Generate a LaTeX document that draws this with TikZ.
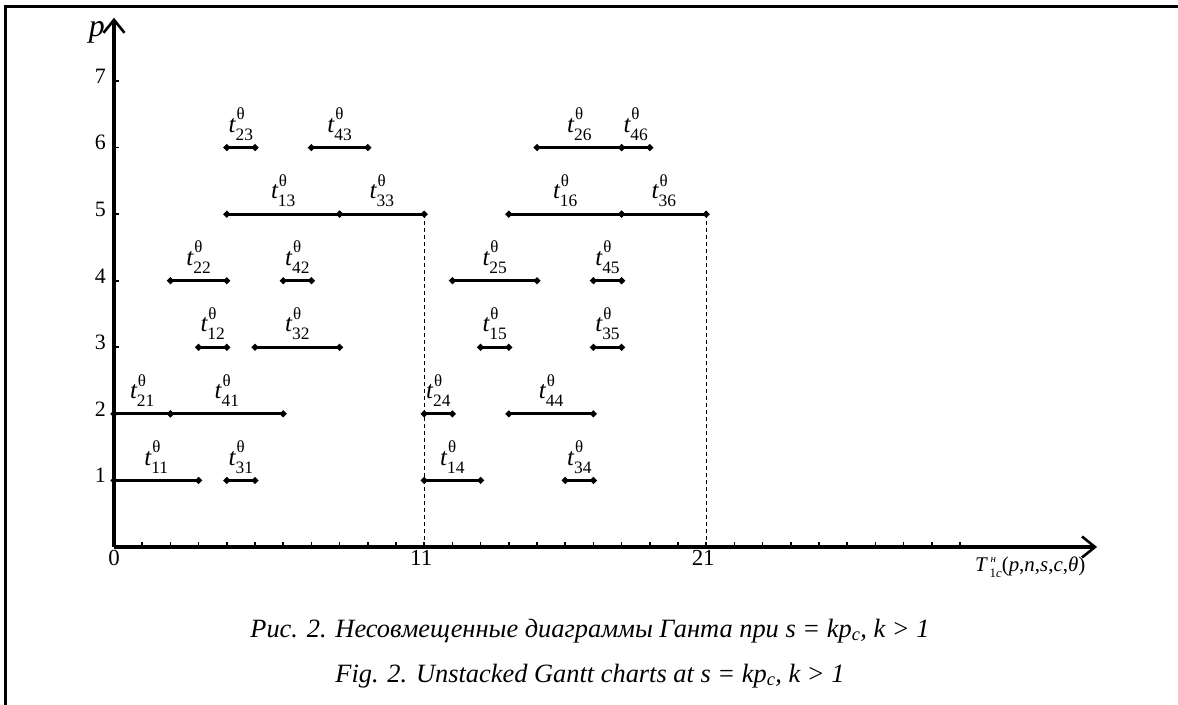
\documentclass[tikz,border=0pt]{standalone}
\usepackage{fontspec}
\setmainfont{Liberation Serif}
\usetikzlibrary{arrows.meta,shapes.geometric}
\newcommand\tlab[1]{\fontsize{25}{25}\selectfont\textit{t}\kern-0.5bp\makebox[0pt][l]{\kern1bp\raisebox{12.5bp}{\fontsize{17}{17}\selectfont θ}}\raisebox{-8bp}{\fontsize{17.5}{17.5}\selectfont #1}}
\begin{document}
\begin{tikzpicture}[x=1bp,y=-1bp,
  dot/.style={diamond,fill=black,inner sep=0pt,minimum size=7.5bp},
  seg/.style={line width=3bp},
  axis/.style={line width=3.2bp,-{Straight Barb[length=13bp,width=21bp,line width=2.6bp]}},
  tickmark/.style={line width=1.6bp},
  lbl/.style={anchor=base,inner sep=0pt},
  num/.style={font=\fontsize{22}{22}\selectfont,inner sep=0pt},
  xnum/.style={font=\fontsize{23}{23}\selectfont,inner sep=0pt,anchor=base},
  caption/.style={font=\fontsize{26.5}{26.5}\selectfont\itshape,anchor=base,inner sep=0pt}]
\useasboundingbox (0,0) rectangle (1178,705);
\draw[line width=3bp] (5,705) -- (5,7) -- (1178,7);
\begin{scope}[xshift=114bp,yshift=-547bp,x=28.2bp,y=66.57bp]
  \coordinate (O) at (0,0);
  \coordinate (xend) at (34.86,0);
  \coordinate (yend) at (0,7.95);
  \coordinate (x11) at (11,0);
  \coordinate (x21) at (21,0);
  \foreach \i in {1,...,30} \draw[tickmark] (\i,0) -- ++(0,5bp);
  \foreach \j in {1,...,7} {
    \draw[tickmark] (0,\j) -- ++(5bp,0);
    \node[num,anchor=mid east] (ty\j) at ([xshift=-8bp]0,\j) {\j};
  }
  \draw[axis] (O) -- (xend);
  \draw[axis] (O) -- (yend);
  \node[xnum] (tx0) at ([yshift=-18bp]0,0) {0};
  \node[xnum] (tx11) at ([xshift=-3bp,yshift=-18bp]11,0) {11};
  \node[xnum] (tx21) at ([xshift=-3bp,yshift=-18bp]21,0) {21};
  \foreach \r/\a/\b/\l in {1/0/3/11, 1/4/5/31, 1/11/13/14, 1/16/17/34,
                            2/0/2/21, 2/2/6/41, 2/11/12/24, 2/14/17/44,
                            3/3/4/12, 3/5/8/32, 3/13/14/15, 3/17/18/35,
                            4/2/4/22, 4/6/7/42, 4/12/15/25, 4/17/18/45,
                            5/4/8/13, 5/8/11/33, 5/14/18/16, 5/18/21/36,
                            6/4/5/23, 6/7/9/43, 6/15/18/26, 6/18/19/46} {
    \node[dot] (s\r-\a) at (\a,\r) {};
    \node[dot] (s\r-\b) at (\b,\r) {};
    \draw[seg] (s\r-\a.center) -- (s\r-\b.center);
    \node[lbl] (L\l) at ({(\a+\b)/2},{\r+0.23}) {\tlab{\l}};
  }
  \draw[dash pattern=on 4bp off 3bp,line width=1.3bp] (s5-11.center) -- (x11);
  \draw[dash pattern=on 4bp off 3bp,line width=1.3bp] (s5-21.center) -- (x21);
\end{scope}
\node[font=\fontsize{32}{32}\selectfont\itshape,anchor=base east,inner sep=0pt] (plab) at (105,37) {p};
\node[font=\fontsize{21}{21}\selectfont,anchor=base west,inner sep=0pt] (Tlab) at (975,571)
  {\textit{T}\kern1.5bp\makebox[0pt][l]{\kern1bp\raisebox{9bp}{\fontsize{11}{11}\selectfont\itshape н}}\raisebox{-6bp}{\fontsize{13}{13}\selectfont 1\textit{c}}(\textit{p},\textit{n},\textit{s},\textit{c},\textit{θ})};
\node[caption] (cap1) at (590,637) {Рис. 2. Несовмещенные диаграммы Ганта при s = kp\textsubscript{c}, k > 1};
\node[caption] (cap2) at (590,682) {Fig. 2. Unstacked Gantt charts at s = kp\textsubscript{c}, k > 1};
\end{tikzpicture}
\end{document}
